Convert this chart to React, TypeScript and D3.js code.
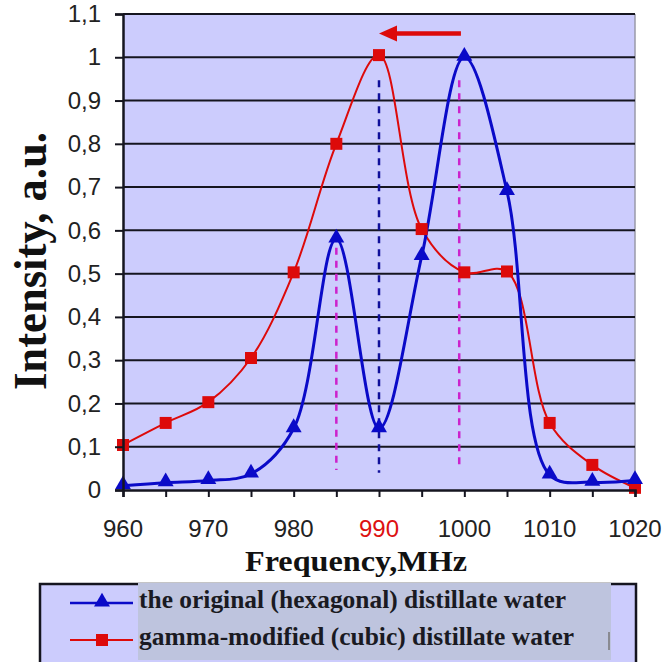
import React, { useRef, useEffect } from "react";
import * as d3 from "d3";

// Frequency steps (MHz) and intensities
const frequencies = [960, 965, 970, 975, 980, 985, 990, 995, 1000, 1005, 1010, 1015, 1020];
const hexagonal = [0.01, 0.017, 0.022, 0.037, 0.142, 0.58, 0.142, 0.54, 1.0, 0.69, 0.035, 0.018, 0.022];
const cubic = [0.104, 0.155, 0.203, 0.305, 0.503, 0.8, 1.005, 0.603, 0.503, 0.505, 0.155, 0.058, 0.005];

const yTicks = [0, 0.1, 0.2, 0.3, 0.4, 0.5, 0.6, 0.7, 0.8, 0.9, 1, 1.1];
const xLabelTicks = [960, 970, 980, 990, 1000, 1010, 1020];
const highlightFreq = 990;

// vertical dashed guides
const guideFreqs = [985, 990, 999.4];
const guideBottoms = [0.046, 0.04, 0.046];
const guideTops = [0.56, 0.947, 0.947];
const guideColors = ["#cc22cc", "#10109a", "#cc22cc"];

// shift arrow (from -> to, at a level)
const arrowFrom = 999.6;
const arrowTo = 990;
const arrowLevel = 1.055;

const legendLabels = [
  "the original (hexagonal) distillate water",
  "gamma-modified (cubic) distillate water",
];

const BLUE = "#0a0ac8";
const RED = "#dd0a0a";
const SERIF = "'Times New Roman', 'Liberation Serif', Times, serif";
const SANS = "Arial, 'Liberation Sans', sans-serif";

export default function App() {
  const svgRef = useRef<SVGSVGElement>(null);

  useEffect(() => {
    if (!svgRef.current) return;
    const svg = d3.select(svgRef.current);
    svg.selectAll("*").remove();

    const width = 665;
    const height = 662;
    svg.attr("width", width).attr("height", height);

    const left = 123, right = 635, top = 14, bottom = 490;

    const x = d3.scaleLinear().domain([960, 1020]).range([left, right]);
    const y = d3.scaleLinear().domain([0, 1.1]).range([bottom, top]);

    svg.append("rect").attr("width", width).attr("height", height).attr("fill", "#fff");

    // plot background
    svg.append("rect")
      .attr("x", left).attr("y", top)
      .attr("width", right - left).attr("height", bottom - top)
      .attr("fill", "#ccccfd");

    svg.append("line")
      .attr("x1", right).attr("x2", right).attr("y1", top).attr("y2", bottom)
      .attr("stroke", "#9a9aa8").attr("stroke-width", 1.5);

    // gridlines
    svg.append("g").selectAll("line")
      .data(yTicks.filter(t => t > 0))
      .join("line")
      .attr("x1", left).attr("x2", right)
      .attr("y1", d => y(d)).attr("y2", d => y(d))
      .attr("stroke", "#15151f").attr("stroke-width", 2);

    // dashed guides
    guideFreqs.forEach((f, i) => {
      svg.append("line")
        .attr("x1", x(f)).attr("x2", x(f))
        .attr("y1", y(guideTops[i])).attr("y2", y(guideBottoms[i]))
        .attr("stroke", guideColors[i])
        .attr("stroke-width", 2.5)
        .attr("stroke-dasharray", "7,6");
    });

    const line = (vals: number[]) =>
      d3.line<number>()
        .x((_, i) => x(frequencies[i]))
        .y(d => y(d))
        .curve(d3.curveCatmullRom.alpha(0.5))(vals);

    svg.append("path").attr("d", line(cubic))
      .attr("fill", "none").attr("stroke", RED).attr("stroke-width", 2);
    svg.append("path").attr("d", line(hexagonal))
      .attr("fill", "none").attr("stroke", BLUE).attr("stroke-width", 3);

    const tri = d3.symbol().type(d3.symbolTriangle).size(110)();
    const sq = d3.symbol().type(d3.symbolSquare).size(144)();

    svg.append("g").selectAll("path")
      .data(cubic)
      .join("path")
      .attr("d", sq)
      .attr("transform", (d, i) => `translate(${x(frequencies[i])},${y(d)})`)
      .attr("fill", RED);

    svg.append("g").selectAll("path")
      .data(hexagonal)
      .join("path")
      .attr("d", tri)
      .attr("transform", (d, i) => `translate(${x(frequencies[i])},${y(d) - 1})`)
      .attr("fill", BLUE);

    // axes
    const yAxis = svg.append("g")
      .attr("transform", `translate(${left},0)`)
      .call(d3.axisLeft(y).tickValues(yTicks).tickSize(8).tickPadding(14)
        .tickFormat(d => String(+d).replace(".", ",")));
    yAxis.select(".domain").attr("stroke", "#15151f").attr("stroke-width", 2.5);
    yAxis.selectAll(".tick line").attr("stroke", "#15151f").attr("stroke-width", 2);
    yAxis.selectAll("text")
      .attr("font-family", SANS).attr("font-size", 24).attr("fill", "#222");

    const xAxis = svg.append("g")
      .attr("transform", `translate(0,${bottom})`)
      .call(d3.axisBottom(x).tickValues(frequencies).tickSize(7).tickFormat(() => ""));
    xAxis.select(".domain").attr("stroke", "#15151f").attr("stroke-width", 2.5);
    xAxis.selectAll(".tick line").attr("stroke", "#15151f").attr("stroke-width", 2);

    svg.append("g").selectAll("text")
      .data(xLabelTicks)
      .join("text")
      .attr("x", d => x(d)).attr("y", 537)
      .attr("text-anchor", "middle")
      .attr("font-family", SANS).attr("font-size", 24)
      .attr("fill", d => (d === highlightFreq ? "#dd1111" : "#222"))
      .text(d => d);

    // arrow
    const ay = y(arrowLevel);
    svg.append("line")
      .attr("x1", x(arrowFrom)).attr("x2", x(arrowTo) + 14)
      .attr("y1", ay).attr("y2", ay)
      .attr("stroke", RED).attr("stroke-width", 4.5);
    svg.append("path")
      .attr("d", `M${x(arrowTo)},${ay}L${x(arrowTo) + 18},${ay - 8}L${x(arrowTo) + 18},${ay + 8}Z`)
      .attr("fill", RED);

    // axis titles
    svg.append("text")
      .attr("transform", `translate(46,${261}) rotate(-90)`)
      .attr("text-anchor", "middle")
      .attr("textLength", 258).attr("lengthAdjust", "spacingAndGlyphs")
      .attr("font-family", SERIF).attr("font-weight", "bold").attr("font-size", 46)
      .attr("fill", "#111")
      .text("Intensity, a.u.");

    svg.append("text")
      .attr("x", 245).attr("y", 571)
      .attr("textLength", 222).attr("lengthAdjust", "spacingAndGlyphs")
      .attr("font-family", SERIF).attr("font-weight", "bold").attr("font-size", 30)
      .attr("fill", "#111")
      .text("Frequency,MHz");

    // legend
    const lg = svg.append("g");
    lg.append("rect")
      .attr("x", 40).attr("y", 584).attr("width", 596).attr("height", 90)
      .attr("fill", "#ccccfd").attr("stroke", "#15151f").attr("stroke-width", 2.5);
    lg.append("rect")
      .attr("x", 138).attr("y", 583).attr("width", 473).attr("height", 77)
      .attr("fill", "#bec4de");
    lg.append("line")
      .attr("x1", 609).attr("x2", 609).attr("y1", 632).attr("y2", 650)
      .attr("stroke", "#777").attr("stroke-width", 1.5);

    const legendColors = [BLUE, RED];
    const legendSymbols = [tri, sq];
    const legendBase = [608, 645];
    const legendLens = [427, 435];
    legendLabels.forEach((label, i) => {
      const cy = legendBase[i] - 5;
      lg.append("line")
        .attr("x1", 70).attr("x2", 133).attr("y1", cy).attr("y2", cy)
        .attr("stroke", legendColors[i]).attr("stroke-width", i === 0 ? 2.5 : 2);
      lg.append("path")
        .attr("d", legendSymbols[i])
        .attr("transform", `translate(102,${cy - (i === 0 ? 1 : 0)})`)
        .attr("fill", legendColors[i]);
      lg.append("text")
        .attr("x", 139).attr("y", legendBase[i])
        .attr("textLength", legendLens[i]).attr("lengthAdjust", "spacingAndGlyphs")
        .attr("font-family", SERIF).attr("font-weight", "bold").attr("font-size", 26)
        .attr("fill", "#1a1a22")
        .text(label);
    });
  }, []);

  return <svg ref={svgRef} style={{ position: "absolute", left: 0, top: 0, display: "block" }} />;
}
